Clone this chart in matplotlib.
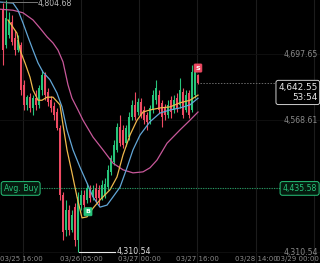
import matplotlib
matplotlib.use("Agg")
import matplotlib.pyplot as plt
import matplotlib.transforms as mtransforms
import numpy as np

# ---------------- data ----------------
opens = [4784, 4716, 4736, 4761, 4730, 4706, 4716, 4638, 4599, 4614,
         4593, 4612, 4599, 4628, 4657, 4624, 4608, 4597, 4585, 4554,
         4423, 4354, 4393, 4354, 4399, 4335, 4403, 4423, 4413, 4433,
         4419, 4436, 4433, 4417, 4423, 4438, 4468, 4487, 4511, 4556,
         4550, 4524, 4536, 4575, 4599, 4585, 4605, 4589, 4579, 4569,
         4589, 4608, 4618, 4603, 4593, 4579, 4608, 4589, 4612, 4599,
         4624, 4589, 4622, 4589, 4618, 4657]
closes = [4706, 4769, 4765, 4722, 4706, 4726, 4628, 4599, 4614, 4593,
          4612, 4599, 4632, 4657, 4618, 4605, 4593, 4579, 4554, 4423,
          4350, 4393, 4354, 4384, 4335, 4419, 4423, 4403, 4436, 4417,
          4433, 4417, 4417, 4442, 4444, 4472, 4495, 4521, 4556, 4524,
          4521, 4554, 4575, 4599, 4575, 4605, 4579, 4569, 4566, 4593,
          4618, 4632, 4589, 4575, 4579, 4599, 4585, 4608, 4593, 4628,
          4579, 4618, 4579, 4663, 4663, 4642.55]
highs = [4798, 4804.68, 4781, 4775, 4745, 4736, 4722, 4648, 4618, 4622,
         4618, 4628, 4638, 4667, 4663, 4632, 4616, 4605, 4593, 4560,
         4429, 4413, 4403, 4393, 4407, 4429, 4433, 4433, 4446, 4442,
         4442, 4446, 4442, 4452, 4456, 4481, 4501, 4530, 4564, 4579,
         4560, 4560, 4585, 4608, 4624, 4612, 4612, 4597, 4585, 4599,
         4628, 4648, 4628, 4608, 4601, 4608, 4616, 4618, 4622, 4652,
         4632, 4628, 4628, 4677, 4679, 4659]
lows = [4677, 4710, 4730, 4716, 4696, 4702, 4618, 4589, 4589, 4585,
        4579, 4589, 4593, 4618, 4608, 4597, 4585, 4569, 4550, 4413,
        4335, 4343, 4345, 4350, 4323, 4310.54, 4393, 4393, 4407, 4409,
        4413, 4409, 4403, 4413, 4417, 4433, 4462, 4481, 4507, 4519,
        4515, 4519, 4530, 4569, 4569, 4579, 4573, 4562, 4550, 4562,
        4583, 4601, 4583, 4556, 4569, 4573, 4573, 4583, 4585, 4593,
        4573, 4585, 4573, 4585, 4612, 4640]

ma_fast_x = [1.67, 4.67, 5.67, 7.33, 9, 10, 11.67, 13, 14.67, 16.67, 19, 20, 21.33, 23,
             24.67, 26.33, 28, 30, 32.33, 35.67, 38, 40, 42.33, 44.67, 46.67, 49, 52.33,
             55.67, 59, 62.33, 65]
ma_fast = [4765, 4739, 4706, 4681, 4653, 4628, 4608, 4608, 4614, 4614, 4599, 4560, 4511, 4466,
           4419, 4378, 4380, 4397, 4413, 4433, 4458, 4501, 4540, 4569, 4585, 4589, 4593,
           4595, 4603, 4608, 4618]

ma_mid_x = [-1, 3.33, 5, 6.67, 8.33, 10, 11.67, 13.33, 15.67, 18, 19.67, 21.33, 23.33, 25.67,
            28, 30, 32.33, 34.67, 36.67, 39, 41.33, 43.33, 45.67, 49, 52.33, 55.67, 59,
            62.33, 65]
ma_mid = [4800, 4798, 4784, 4759, 4732, 4706, 4681, 4663, 4648, 4622, 4595, 4550, 4511, 4477,
          4446, 4419, 4399, 4403, 4419, 4438, 4476, 4511, 4540, 4566, 4583, 4589, 4593,
          4599, 4612]

ma_slow_x = [-1, 3.33, 6.67, 10, 12.33, 14.67, 16.67, 18.33, 20, 21.67, 23, 25, 26.67, 30,
             33.33, 36.67, 40, 43.33, 46.67, 49, 51.33, 54.67, 59, 62.33, 65]
ma_slow = [4786, 4784, 4779, 4765, 4749, 4732, 4720, 4706, 4683, 4638, 4612, 4589, 4569, 4536,
           4511, 4485, 4472, 4466, 4468, 4476, 4491, 4524, 4550, 4569, 4585]

axis_prices = [4697.65, 4568.61, 4310.54]
axis_price_labels = ["4,697.65", "4,568.61", "4,310.54"]
tick_pos = [6.67, 26, 45.33, 64.67, 84.33, 103.67]
tick_labels = ["03/25 16:00", "03/26 05:00", "03/27 00:00", "03/27 16:00", "03/28 14:00", "03/29 00:00"]

last_price = 4642.55
countdown = "53:54"
avg_buy = 4435.58
max_price = 4804.68
min_price = 4310.54
min_idx = 25
buy_idx = 28.33
buy_price = 4390
sell_idx = 65
sell_price = 4671

# ---------------- style ----------------
GREEN = "#27c47a"
RED = "#ef4a63"
BG = "#000000"
GRID = "#1c1c1c"
TXT = "#8a8a8a"

fig = plt.figure(figsize=(3.2, 2.63), dpi=100, facecolor=BG)
ax = fig.add_axes([0, 0, 1, 1], facecolor=BG)
ax.set_xlim(-1, 105.67)
ax.set_ylim(4289.8, 4804.0)
ax.axis("off")

# grid
for t in tick_pos:
    ax.axvline(t, color=GRID, lw=0.8, zorder=0)
for p in axis_prices + [avg_buy]:
    ax.axhline(p, color="#111111", lw=0.6, zorder=0)

# candles
n = len(opens)
idx = np.arange(n)
o = np.array(opens); c = np.array(closes); h = np.array(highs); l = np.array(lows)
cols = [GREEN if cc >= oo else RED for oo, cc in zip(o, c)]
ax.vlines(idx, l, h, colors=cols, lw=0.8, zorder=2)
bottom = np.minimum(o, c)
height = np.maximum(np.abs(c - o), 1.5)
ax.bar(idx, height, bottom=bottom, width=0.84, color=cols, edgecolor=cols, lw=0, zorder=3)

# moving averages
ax.plot(ma_slow_x, ma_slow, color="#c8589a", lw=0.9, zorder=4)
ax.plot(ma_mid_x, ma_mid, color="#62a6d6", lw=0.9, zorder=4)
ax.plot(ma_fast_x, ma_fast, color="#efb84c", lw=0.9, zorder=4)

bt = mtransforms.blended_transform_factory(ax.transAxes, ax.transData)
FS = 5.6

# right axis labels
for p, s in zip(axis_prices, axis_price_labels):
    ax.text(0.994, p, s, transform=bt, ha="right", va="center", color=TXT, fontsize=FS, zorder=6)

# last price dashed line and box
ax.plot([65.7, 93.0], [last_price, last_price], color="#6a6a6a", lw=0.7, ls=(0, (1.5, 1.5)), zorder=4)
ax.text(0.992, last_price, f"{last_price:,.2f}\n{countdown}", transform=bt, ha="right", va="top",
        color="#e8e8e8", fontsize=6.4, linespacing=1.25, zorder=7,
        bbox=dict(boxstyle="round,pad=0.25,rounding_size=0.25", fc=BG, ec="#cfcfcf", lw=0.7))

# avg buy line
ax.plot([10.3, 93.0], [avg_buy, avg_buy], color=GREEN, lw=0.8, ls=(0, (1, 1.2)), alpha=0.8, zorder=4)
ax.text(0.011, avg_buy, "Avg. Buy", transform=bt, ha="left", va="center", color=GREEN,
        fontsize=FS, zorder=7,
        bbox=dict(boxstyle="round,pad=0.3,rounding_size=0.3", fc="#051a0e", ec=GREEN, lw=0.7))
ax.text(0.99, avg_buy, f"{avg_buy:,.2f}", transform=bt, ha="right", va="center", color=GREEN,
        fontsize=FS, zorder=7,
        bbox=dict(boxstyle="round,pad=0.3,rounding_size=0.3", fc="#051a0e", ec=GREEN, lw=0.7))

# min marker
ax.plot([min_idx + 0.3, 37.3], [min_price, min_price], color="#e8e8e8", lw=0.8, zorder=5)
ax.text(37.7, min_price + 1.5, f"{min_price:,.2f}", ha="left", va="center", color="#e0e0e0",
        fontsize=FS, zorder=6)

# max marker
ax.plot([0.0, 11.3], [4799.5, 4799.5], color="#777777", lw=0.7, zorder=5)
ax.text(11.5, 4796.5, f"{max_price:,.2f}", ha="left", va="center", color="#bbbbbb",
        fontsize=FS, zorder=6)

# buy / sell markers
ax.text(buy_idx, buy_price, "B", ha="center", va="center", color="white", fontsize=4.6,
        fontweight="bold", zorder=8,
        bbox=dict(boxstyle="round,pad=0.25,rounding_size=0.15", fc=GREEN, ec=GREEN, lw=0.5))
ax.text(sell_idx, sell_price, "S", ha="center", va="center", color="white", fontsize=4.6,
        fontweight="bold", zorder=8,
        bbox=dict(boxstyle="round,pad=0.25,rounding_size=0.15", fc=RED, ec=RED, lw=0.5))

# time labels (at the bottom edge)
bx = mtransforms.blended_transform_factory(ax.transData, ax.transAxes)
for t, s in zip(tick_pos, tick_labels):
    ha = "center"
    x = t
    if t == tick_pos[-1]:
        ha = "right"; x = 105.4
    if t == tick_pos[0]:
        ha = "left"; x = -0.9
    ax.text(x, 0.003, s, transform=bx, ha=ha, va="bottom", color=TXT, fontsize=5.0, zorder=6)

fig.savefig("out.png", dpi=100, facecolor=BG)
